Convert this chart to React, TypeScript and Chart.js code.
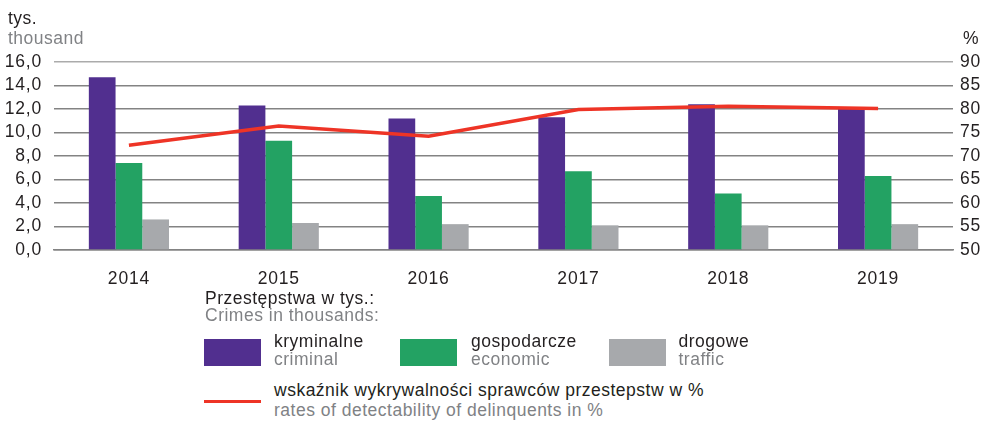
import React, { useEffect, useRef } from "react";
import { Chart, registerables } from "chart.js";

Chart.register(...registerables);

const years = ["2014", "2015", "2016", "2017", "2018", "2019"];
const criminal = [14.7, 12.3, 11.2, 11.3, 12.4, 12.0];
const economic = [7.4, 9.3, 4.6, 6.7, 4.8, 6.3];
const traffic = [2.6, 2.3, 2.2, 2.1, 2.1, 2.2];
const detectability = [72.3, 76.4, 74.2, 79.9, 80.6, 80.1];

const PURPLE = "#512f8f";
const GREEN = "#23a263";
const GREY = "#a7a9ac";
const RED = "#ee3426";
const TEXT = "#231f20";
const SUB = "#808285";
const FONT = '"Liberation Sans", Arial, Helvetica, sans-serif';

const txt = (left: number, top: number, color: string): React.CSSProperties => ({
  position: "absolute",
  left,
  top,
  color,
  fontFamily: FONT,
  fontSize: 17.5,
  lineHeight: "17.5px",
  letterSpacing: "0.5px",
  whiteSpace: "nowrap",
});

export default function App() {
  const ref = useRef<HTMLCanvasElement | null>(null);

  useEffect(() => {
    if (!ref.current) return;
    const tickFont = { family: FONT, size: 17.5 };
    const chart = new Chart(ref.current, {
      type: "bar",
      data: {
        labels: years,
        datasets: [
          {
            type: "line",
            label: "wskaźnik",
            data: detectability,
            yAxisID: "y1",
            borderColor: RED,
            borderWidth: 3.5,
            pointRadius: 0,
            tension: 0,
            order: 0,
          } as any,
          {
            label: "kryminalne",
            data: criminal,
            backgroundColor: PURPLE,
            yAxisID: "y",
            order: 1,
          },
          {
            label: "gospodarcze",
            data: economic,
            backgroundColor: GREEN,
            yAxisID: "y",
            order: 1,
          },
          {
            label: "drogowe",
            data: traffic,
            backgroundColor: GREY,
            yAxisID: "y",
            order: 1,
          },
        ],
      },
      options: {
        responsive: false,
        animation: false,
        layout: { padding: { top: 62, left: 0, right: 0, bottom: 0 } },
        datasets: {
          bar: { categoryPercentage: 0.535, barPercentage: 1.0 },
        },
        plugins: {
          legend: { display: false },
          tooltip: { enabled: false },
        },
        scales: {
          x: {
            grid: { display: false },
            border: { display: true, color: "#838383", width: 1.5 },
            ticks: {
              color: TEXT,
              font: tickFont,
              padding: 11,
              autoSkip: false,
              maxRotation: 0,
            },
            afterFit: (s: any) => {
              s.height = 40;
            },
          },
          y: {
            position: "left",
            min: 0,
            max: 16,
            grid: {
              color: (c: any) =>
                c.tick && c.tick.value === 16 ? "#ababab" : "#838383",
              lineWidth: 1.4,
              drawTicks: false,
            },
            border: { display: false },
            ticks: {
              stepSize: 2,
              autoSkip: false,
              color: TEXT,
              font: tickFont,
              padding: 12,
              callback: (v: any) => Number(v).toFixed(1).replace(".", ","),
            },
            afterFit: (s: any) => {
              s.width = 54;
            },
          },
          y1: {
            position: "right",
            min: 50,
            max: 90,
            grid: { display: false, drawTicks: false },
            border: { display: false },
            ticks: {
              stepSize: 5,
              autoSkip: false,
              color: TEXT,
              font: tickFont,
              padding: 7,
            },
            afterFit: (s: any) => {
              s.width = 30;
            },
          },
        },
      },
      plugins: [
        {
          id: "letterSpacing",
          beforeDraw: (c: any) => {
            c.ctx.letterSpacing = "0.8px";
          },
        },
      ],
    } as any);
    return () => chart.destroy();
  }, []);

  const box = (left: number, color: string): React.CSSProperties => ({
    position: "absolute",
    left,
    top: 339,
    width: 57,
    height: 27,
    background: color,
  });

  return (
    <div
      style={{
        position: "fixed",
        left: 0,
        top: 0,
        width: 983,
        height: 421,
        background: "#fff",
        overflow: "hidden",
      }}
    >
      <canvas
        ref={ref}
        width={983}
        height={290}
        style={{ position: "absolute", left: 0, top: 0, width: 983, height: 290 }}
      />
      <div style={txt(8, 10.2, TEXT)}>tys.</div>
      <div style={txt(8, 30.2, SUB)}>thousand</div>
      <div style={txt(963, 30.2, TEXT)}>%</div>

      <div style={txt(205, 289.5, TEXT)}>Przestępstwa w tys.:</div>
      <div style={txt(205, 307.2, SUB)}>Crimes in thousands:</div>

      <div style={box(204, PURPLE)} />
      <div style={txt(274, 333.2, TEXT)}>kryminalne</div>
      <div style={txt(274, 351.2, SUB)}>criminal</div>

      <div style={box(400, GREEN)} />
      <div style={txt(471, 333.2, TEXT)}>gospodarcze</div>
      <div style={txt(471, 351.2, SUB)}>economic</div>

      <div style={box(609, GREY)} />
      <div style={txt(678.5, 333.2, TEXT)}>drogowe</div>
      <div style={txt(678.5, 351.2, SUB)}>traffic</div>

      <div
        style={{
          position: "absolute",
          left: 204,
          top: 400,
          width: 57,
          height: 3,
          background: RED,
        }}
      />
      <div style={txt(274, 382, TEXT)}>
        wskaźnik wykrywalności sprawców przestepstw w %
      </div>
      <div style={txt(274, 402.2, SUB)}>
        rates of detectability of delinquents in %
      </div>
    </div>
  );
}
